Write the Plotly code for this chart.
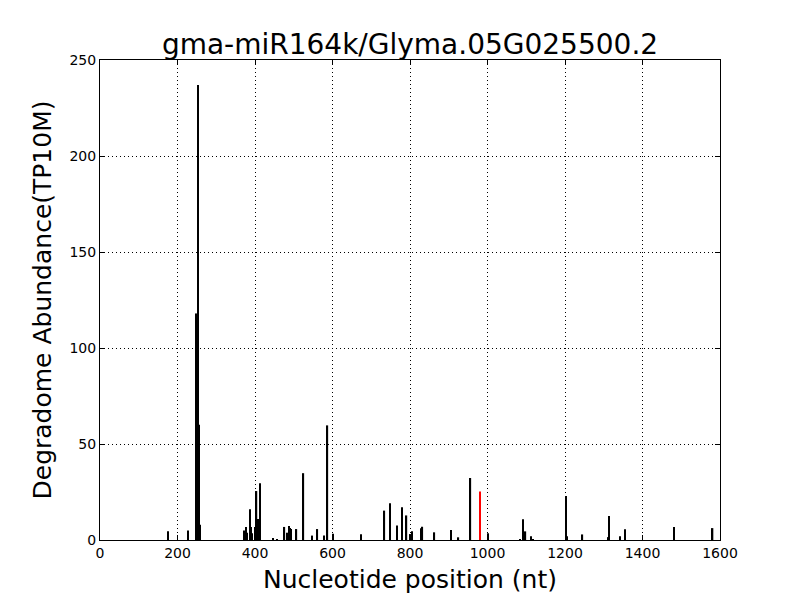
import plotly.graph_objects as go

positions = [175, 227, 247, 249, 253, 256, 258, 372, 377, 380, 387, 390, 393, 400, 404, 407, 413,
             447, 456, 476, 484, 487, 490, 493, 507, 525, 548, 561, 578, 587, 602, 674, 734, 749,
             767, 780, 791, 801, 806, 828, 832, 863, 906, 925, 956, 981, 1002, 1084, 1092, 1098,
             1112, 1117, 1202, 1206, 1245, 1312, 1314, 1342, 1354, 1482, 1581]
abundance = [4.5, 5, 6, 118, 237, 60, 8, 5, 6.8, 3.8, 16, 6.8, 3.5, 6.8, 25.5, 11, 29.5,
             1, 0.5, 6.8, 3.8, 7.3, 6.3, 5.7, 5.7, 34.8, 2.3, 5.7, 2.3, 59.7, 3.3, 3, 15.3, 19.1,
             7.6, 17, 12.8, 3.1, 4.5, 6.1, 6.9, 4, 5.2, 1.4, 32.3, 25.2, 3.5, 0.5, 10.8, 4.5,
             2, 0.5, 22.9, 2, 2.9, 1.5, 12.5, 2, 5.6, 6.8, 6.2]
target_position = 981

title_text = "gma-miR164k/Glyma.05G025500.2"
x_label = "Nucleotide position (nt)"
y_label = "Degradome Abundance(TP10M)"
x_ticks = [0, 200, 400, 600, 800, 1000, 1200, 1400, 1600]
y_ticks = [0, 50, 100, 150, 200, 250]

colors = ["red" if p == target_position else "black" for p in positions]

fig = go.Figure()
fig.add_trace(go.Bar(x=positions, y=abundance, width=3.5,
                     marker=dict(color=colors, line=dict(width=0)),
                     hoverinfo="x+y"))

font_family = "DejaVu Sans, sans-serif"
axis_common = dict(showline=True, linecolor="black", linewidth=1, mirror="allticks",
                   ticks="inside", ticklen=5, tickcolor="black",
                   showgrid=True, gridcolor="black", griddash="1px,3px", gridwidth=1,
                   zeroline=False, tickfont=dict(family=font_family, size=14, color="black"))

# page body has an 8px margin, so the figure is 792x592 to fill the 800x600 window
fig.update_layout(
    width=792, height=592,
    paper_bgcolor="white", plot_bgcolor="white",
    margin=dict(l=92, r=80, t=52, b=60),
    title=dict(text=title_text, x=0.5 * (92 + 712) / 792, xanchor="center",
               y=1 - 36 / 592, yanchor="middle", yref="container",
               font=dict(family=font_family, size=28, color="black")),
    showlegend=False,
    xaxis=dict(range=[0, 1600], tickvals=x_ticks, ticktext=[str(t) for t in x_ticks],
               title=dict(text=x_label, font=dict(family=font_family, size=25, color="black"), standoff=10),
               **axis_common),
    yaxis=dict(range=[0, 250], tickvals=y_ticks, ticktext=[str(t) for t in y_ticks],
               title=dict(text=y_label, font=dict(family=font_family, size=25, color="black"), standoff=10),
               **axis_common),
)

fig.write_html("out.html")
